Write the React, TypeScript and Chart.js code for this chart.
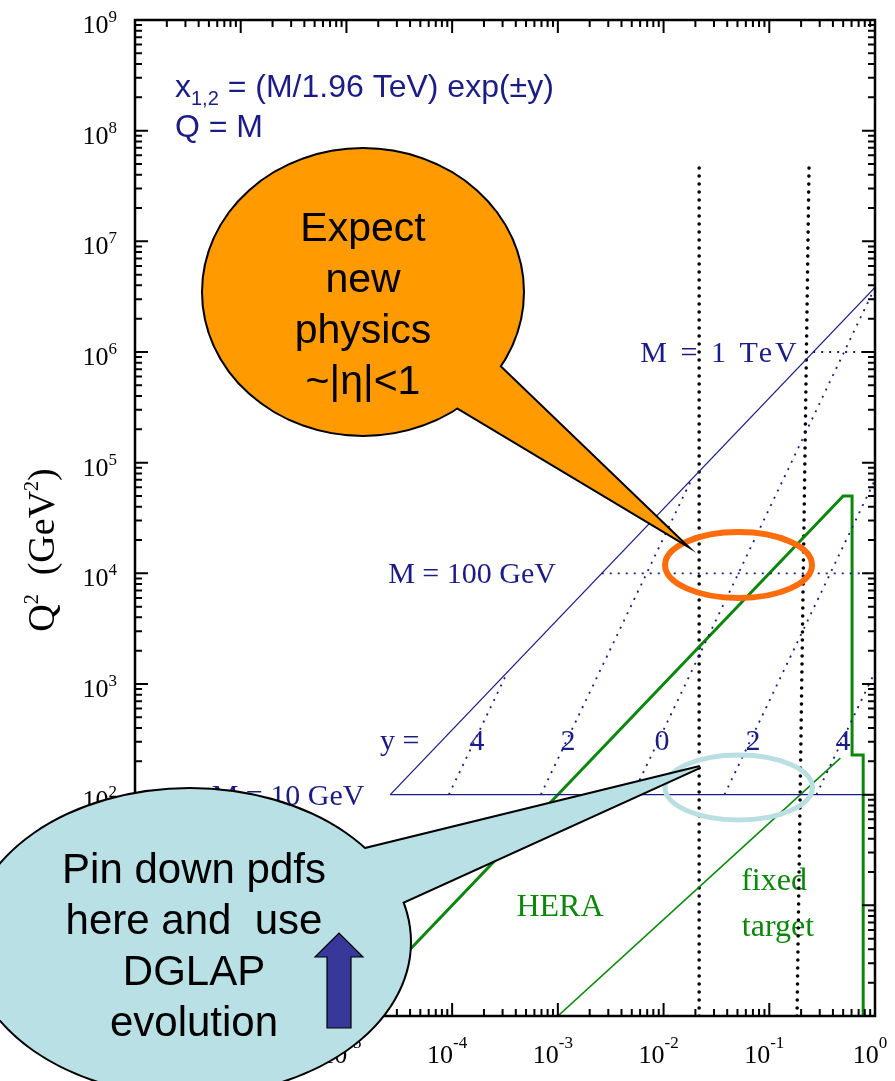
import { useEffect, useRef } from "react";
import { Chart, registerables } from "chart.js";

Chart.register(...registerables);

const CANVAS_W = 895;
const CANVAS_H = 1081;

const NAVY = "#1c1c86";
const GREEN = "#0b870b";
const SERIF = '"Liberation Serif", "Times New Roman", serif';
const SANS = '"Liberation Sans", Arial, sans-serif';

// Axis extent in decades
const X_EXP = [-7, -6, -5, -4, -3, -2, -1, 0];
const Q2_EXP = [0, 1, 2, 3, 4, 5, 6, 7, 8, 9];

// Kinematic limit Q^2 = x s at sqrt(s) = 1.96 TeV
const LIMIT_X = [2.6e-5, 1];
const LIMIT_Q2 = [100, 3.84e6];

// Q = M lines
const M10_X = [2.6e-5, 1];
const M10_Q2 = [100, 100];
const M100_X = [2.6e-3, 1];
const M100_Q2 = [1e4, 1e4];
const M1000_X = [0.26, 1];
const M1000_Q2 = [1e6, 1e6];

// Lines of constant rapidity y = 4, 2, 0, -2, -4
const YP4_X = [9.3e-5, 3.35e-4];
const YP4_Q2 = [100, 1290];
const YP2_X = [6.9e-4, 0.0183];
const YP2_Q2 = [100, 7.0e4];
const Y0_X = [5.1e-3, 1];
const Y0_Q2 = [100, 3.84e6];
const YM2_X = [0.0377, 1];
const YM2_Q2 = [100, 7.0e4];
const YM4_X = [0.279, 1];
const YM4_Q2 = [100, 1290];

// |eta| < 1 acceptance edges
const ETA_LOW_X = [0.0217, 0.0217];
const ETA_LOW_Q2 = [1, 5.1e7];
const ETA_HIGH_X = [0.183, 0.238];
const ETA_HIGH_Q2 = [1, 5.1e7];

// HERA reach
const HERA_X = [1e-5, 0.5, 0.607, 0.607, 0.773, 0.773];
const HERA_Q2 = [1, 5e4, 5e4, 228, 228, 1];

// Fixed-target reach
const FT_X = [1e-3, 0.47];
const FT_Q2 = [1, 214];

// Rapidity labels and their anchors (x, Q^2)
const Y_LABELS = ["4", "2", "0", "2", "4"];
const Y_LABEL_X = [1.72e-4, 1.25e-3, 9.66e-3, 0.0702, 0.499];
const Y_LABEL_Q2 = 253;

// Highlighted regions: [xLow, xHigh, q2Low, q2High]
const TEVATRON_REGION = [0.01033, 0.2535, 5.98e3, 2.36e4];
const LOW_Q2_REGION = [0.01033, 0.2557, 59, 228];

const ORANGE_TEXT = ["Expect", "new", "physics", "~|η|<1"];
const BLUE_TEXT = ["Pin down pdfs", "here and  use", "DGLAP", "evolution"];

const pts = (xs: number[], qs: number[]) => xs.map((x, i) => ({ x, y: qs[i] }));

type Ctx = CanvasRenderingContext2D;

function supText(
  ctx: Ctx,
  base: string,
  exp: string,
  x: number,
  y: number,
  baseFont: string,
  expFont: string,
  rise: number,
  align: "left" | "right" | "center"
) {
  ctx.font = baseFont;
  const wb = ctx.measureText(base).width;
  ctx.font = expFont;
  const we = ctx.measureText(exp).width;
  const total = wb + we;
  let sx = x;
  if (align === "right") sx = x - total;
  if (align === "center") sx = x - total / 2;
  ctx.textAlign = "left";
  ctx.font = baseFont;
  ctx.fillText(base, sx, y);
  ctx.font = expFont;
  ctx.fillText(exp, sx + wb, y - rise);
}

function callout(
  ctx: Ctx,
  e: { cx: number; cy: number; rx: number; ry: number },
  tail: number[][],
  fill: string
) {
  const ell = () => {
    ctx.beginPath();
    ctx.ellipse(e.cx, e.cy, e.rx, e.ry, 0, 0, Math.PI * 2);
  };
  const tri = () => {
    ctx.beginPath();
    ctx.moveTo(tail[0][0], tail[0][1]);
    ctx.lineTo(tail[1][0], tail[1][1]);
    ctx.lineTo(tail[2][0], tail[2][1]);
    ctx.closePath();
  };
  ctx.strokeStyle = "#000";
  ctx.lineWidth = 4;
  ctx.lineJoin = "miter";
  ell();
  ctx.stroke();
  tri();
  ctx.stroke();
  ctx.fillStyle = fill;
  ell();
  ctx.fill();
  tri();
  ctx.fill();
}

const labelsPlugin = {
  id: "labels",
  beforeDatasetsDraw(chart: any) {
    const { ctx, scales } = chart;
    const px = (v: number) => scales.x.getPixelForValue(v);
    const py = (v: number) => scales.y.getPixelForValue(v);
    ctx.save();
    ctx.textBaseline = "alphabetic";

    // Q = M labels
    ctx.fillStyle = NAVY;
    ctx.font = `30px ${SERIF}`;
    ctx.textAlign = "center";
    ctx.letterSpacing = "3px";
    ctx.fillText("M = 1 TeV", 720, py(1e6) + 10);
    ctx.letterSpacing = "0px";
    ctx.fillText("M = 100 GeV", 472, py(1e4) + 10);
    ctx.fillText("M = 10 GeV", 288, py(100) + 10);

    // rapidity labels
    ctx.textAlign = "left";
    ctx.fillText("y =", 380, py(Y_LABEL_Q2));
    ctx.textAlign = "center";
    Y_LABELS.forEach((t, i) => ctx.fillText(t, px(Y_LABEL_X[i]), py(Y_LABEL_Q2)));

    // kinematic formula
    ctx.textAlign = "left";
    ctx.font = `32px ${SANS}`;
    ctx.fillText("x", 175, 97);
    let w = ctx.measureText("x").width;
    ctx.font = `20px ${SANS}`;
    ctx.fillText("1,2", 175 + w, 105);
    w += ctx.measureText("1,2").width;
    ctx.font = `32px ${SANS}`;
    ctx.fillText(" = (M/1.96 TeV) exp(±y)", 175 + w, 97);
    ctx.fillText("Q = M", 175, 137);

    // experiment labels
    ctx.fillStyle = GREEN;
    ctx.font = `32px ${SERIF}`;
    ctx.textAlign = "center";
    ctx.fillText("HERA", 560, 916);
    ctx.fillText("fixed", 774, 890);
    ctx.fillText("target", 778, 936);
    ctx.restore();
  },
  afterDatasetsDraw(chart: any) {
    const { ctx, chartArea: a, scales } = chart;
    const px = (v: number) => scales.x.getPixelForValue(v);
    const py = (v: number) => scales.y.getPixelForValue(v);
    ctx.save();

    // highlighted regions
    const ring = (r: number[], color: string, lw: number) => {
      const x0 = px(r[0]), x1 = px(r[1]);
      const y0 = py(r[3]), y1 = py(r[2]);
      ctx.beginPath();
      ctx.ellipse((x0 + x1) / 2, (y0 + y1) / 2, (x1 - x0) / 2, (y1 - y0) / 2, 0, 0, Math.PI * 2);
      ctx.strokeStyle = color;
      ctx.lineWidth = lw;
      ctx.stroke();
    };
    ring(TEVATRON_REGION, "#ff6c0c", 6);
    ring(LOW_Q2_REGION, "#b9dfe3", 5);

    // frame
    ctx.strokeStyle = "#000";
    ctx.lineWidth = 2.5;
    ctx.strokeRect(a.left, a.top, a.right - a.left, a.bottom - a.top);

    // inward ticks on all four sides
    ctx.lineWidth = 2;
    const MAJ = 13, MIN = 7;
    X_EXP.forEach((d, i) => {
      const vals: [number, number][] = [[Math.pow(10, d), MAJ]];
      if (i < X_EXP.length - 1) for (let k = 2; k <= 9; k++) vals.push([k * Math.pow(10, d), MIN]);
      vals.forEach(([v, len]) => {
        const x = px(v);
        ctx.beginPath();
        ctx.moveTo(x, a.bottom);
        ctx.lineTo(x, a.bottom - len);
        ctx.moveTo(x, a.top);
        ctx.lineTo(x, a.top + len);
        ctx.stroke();
      });
    });
    Q2_EXP.forEach((d, i) => {
      const vals: [number, number][] = [[Math.pow(10, d), MAJ]];
      if (i < Q2_EXP.length - 1) for (let k = 2; k <= 9; k++) vals.push([k * Math.pow(10, d), MIN]);
      vals.forEach(([v, len]) => {
        const y = py(v);
        ctx.beginPath();
        ctx.moveTo(a.left, y);
        ctx.lineTo(a.left + len, y);
        ctx.moveTo(a.right, y);
        ctx.lineTo(a.right - len, y);
        ctx.stroke();
      });
    });

    // tick labels
    ctx.fillStyle = "#000";
    ctx.textBaseline = "alphabetic";
    const bf = `26px ${SERIF}`, ef = `17px ${SERIF}`;
    Q2_EXP.forEach((d) => {
      supText(ctx, "10", String(d), a.left - 18, py(Math.pow(10, d)) + 13, bf, ef, 11, "right");
    });
    X_EXP.forEach((d) => {
      supText(ctx, "10", String(d), px(Math.pow(10, d)) - 5, 1063, bf, ef, 15, "center");
    });

    // axis title
    ctx.save();
    ctx.translate(54, 550);
    ctx.rotate(-Math.PI / 2);
    const tf = `38px ${SERIF}`, tsf = `20px ${SERIF}`;
    const parts: [string, string, number][] = [
      ["Q", tf, 0],
      ["2", tsf, 16],
      ["  (GeV", tf, 0],
      ["2", tsf, 16],
      [")", tf, 0],
    ];
    let tw = 0;
    parts.forEach(([t, f]) => {
      ctx.font = f;
      tw += ctx.measureText(t).width;
    });
    let cx = -tw / 2;
    ctx.textAlign = "left";
    parts.forEach(([t, f, r]) => {
      ctx.font = f;
      ctx.fillText(t, cx, -r);
      cx += ctx.measureText(t).width;
    });
    ctx.restore();

    // callouts
    callout(
      ctx,
      { cx: 363, cy: 292, rx: 160, ry: 143 },
      [[470, 338], [440, 397], [px(0.01494), py(1.92e4)]],
      "#ff9a00"
    );
    ctx.fillStyle = "#000";
    ctx.font = `41px ${SANS}`;
    ctx.textAlign = "center";
    ORANGE_TEXT.forEach((t, i) => ctx.fillText(t, 363, 241 + i * 51));

    callout(
      ctx,
      { cx: 190, cy: 942, rx: 220, ry: 153 },
      [[300, 865], [330, 935], [px(0.0221), py(178)]],
      "#b9e0e4"
    );
    ctx.fillStyle = "#000";
    ctx.font = `42px ${SANS}`;
    BLUE_TEXT.forEach((t, i) => ctx.fillText(t, 194, 883 + i * 51));

    // up arrow
    ctx.beginPath();
    ctx.moveTo(327, 1028);
    ctx.lineTo(351, 1028);
    ctx.lineTo(351, 957);
    ctx.lineTo(363, 957);
    ctx.lineTo(339, 933);
    ctx.lineTo(315, 957);
    ctx.lineTo(327, 957);
    ctx.closePath();
    ctx.fillStyle = "#38389a";
    ctx.fill();
    ctx.strokeStyle = "#000";
    ctx.lineWidth = 1.2;
    ctx.stroke();

    ctx.restore();
  },
};

export default function App() {
  const ref = useRef<HTMLCanvasElement | null>(null);

  useEffect(() => {
    if (!ref.current) return;
    const navySolid = { borderColor: NAVY, borderWidth: 1.3 };
    const navyDot = { borderColor: NAVY, borderWidth: 1.8, borderDash: [2, 6] };
    const blackDot = { borderColor: "#000", borderWidth: 3.6, borderDash: [0, 8], borderCapStyle: "round" };
    const mk = (xs: number[], qs: number[], style: any) => ({
      data: pts(xs, qs),
      showLine: true,
      pointRadius: 0,
      fill: false,
      ...style,
    });
    const chart = new Chart(ref.current, {
      type: "scatter",
      data: {
        datasets: [
          mk(LIMIT_X, LIMIT_Q2, navySolid),
          mk(M10_X, M10_Q2, navySolid),
          mk(M100_X, M100_Q2, navyDot),
          mk(M1000_X, M1000_Q2, navyDot),
          mk(YP4_X, YP4_Q2, navyDot),
          mk(YP2_X, YP2_Q2, navyDot),
          mk(Y0_X, Y0_Q2, navyDot),
          mk(YM2_X, YM2_Q2, navyDot),
          mk(YM4_X, YM4_Q2, navyDot),
          mk(FT_X, FT_Q2, { borderColor: GREEN, borderWidth: 1.6 }),
          mk(HERA_X, HERA_Q2, { borderColor: GREEN, borderWidth: 3, borderJoinStyle: "miter" }),
          mk(ETA_LOW_X, ETA_LOW_Q2, blackDot),
          mk(ETA_HIGH_X, ETA_HIGH_Q2, blackDot),
        ] as any,
      },
      options: {
        responsive: false,
        animation: false,
        devicePixelRatio: 1,
        events: [],
        layout: { padding: { left: 135, right: 20, top: 20, bottom: 65 } },
        plugins: { legend: { display: false }, tooltip: { enabled: false } },
        scales: {
          x: { type: "logarithmic", min: 1e-7, max: 1, display: false },
          y: { type: "logarithmic", min: 1, max: 1e9, display: false },
        },
        elements: { line: { tension: 0 } },
      } as any,
      plugins: [labelsPlugin as any],
    });
    return () => chart.destroy();
  }, []);

  return (
    <div style={{ position: "fixed", left: 0, top: 0, width: CANVAS_W, height: CANVAS_H, background: "#fff" }}>
      <canvas ref={ref} width={CANVAS_W} height={CANVAS_H} style={{ display: "block" }} />
    </div>
  );
}
